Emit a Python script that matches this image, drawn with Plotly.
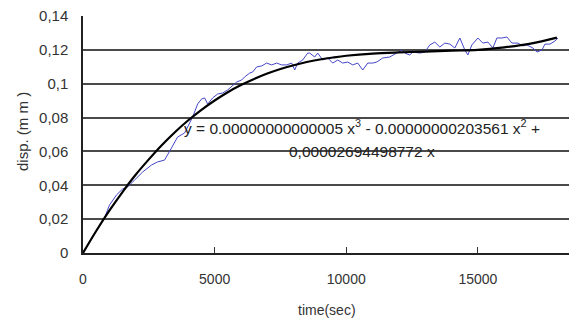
import plotly.graph_objects as go

time_sec = [0, 400, 817, 1008, 1274, 1502, 1692, 1958, 2262, 2604, 2833, 3099, 3289, 3403, 3593,
            3859, 4164, 4354, 4506, 4620, 4734, 4924, 5114, 5304, 5494, 5684, 5836, 6026, 6140,
            6330, 6444, 6596, 6786, 6977, 7167, 7357, 7547, 7737, 7927, 8041, 8155, 8345, 8535,
            8611, 8801, 8915, 9105, 9295, 9485, 9675, 9866, 10056, 10246, 10436, 10626, 10816,
            11006, 11158, 11387, 11653, 11919, 12109, 12223, 12413, 12527, 12793, 12983, 13173,
            13364, 13554, 13744, 13934, 14124, 14314, 14504, 14618, 14770, 14998, 15188, 15379,
            15569, 15721, 15911, 16101, 16291, 16519, 16709, 16862, 17090, 17242, 17432, 17546,
            17736, 17926, 18040]
disp_mm = [0, 0.010, 0.0207, 0.0284, 0.0343, 0.0378, 0.0390, 0.0431, 0.0478, 0.0520, 0.0538,
           0.0549, 0.0597, 0.0632, 0.0685, 0.0709, 0.0803, 0.0880, 0.0910, 0.0916, 0.0880,
           0.0916, 0.0939, 0.0945, 0.0963, 0.0986, 0.1010, 0.1022, 0.1040, 0.1063, 0.1069,
           0.1099, 0.1105, 0.1122, 0.1111, 0.1122, 0.1111, 0.1111, 0.1122, 0.1081, 0.1122,
           0.1140, 0.1181, 0.1181, 0.1158, 0.1181, 0.1140, 0.1152, 0.1122, 0.1140, 0.1122,
           0.1128, 0.1111, 0.1122, 0.1081, 0.1122, 0.1122, 0.1128, 0.1152, 0.1158, 0.1181,
           0.1199, 0.1181, 0.1170, 0.1187, 0.1181, 0.1187, 0.1229, 0.1246, 0.1217, 0.1240,
           0.1234, 0.1211, 0.1270, 0.1199, 0.1170, 0.1229, 0.1270, 0.1240, 0.1246, 0.1211,
           0.1270, 0.1270, 0.1276, 0.1240, 0.1240, 0.1223, 0.1229, 0.1211, 0.1187, 0.1199,
           0.1234, 0.1234, 0.1252, 0.1270]

# Trendline (black)
trend_sec = [0, 500, 1000, 1500, 2000, 2500, 3000, 3500, 4000, 4500, 5000, 5500, 6000, 6500,
             7000, 7500, 8000, 8500, 9000, 9500, 10000, 11000, 12000, 13000, 14000, 15000,
             16000, 17000, 18000]
trend_mm = [0, 0.0130, 0.0250, 0.0360, 0.0462, 0.0553, 0.0638, 0.0715, 0.0784, 0.0846, 0.0901,
            0.0950, 0.0992, 0.1028, 0.1060, 0.1087, 0.1109, 0.1128, 0.1143, 0.1155, 0.1165,
            0.1178, 0.1185, 0.1190, 0.1195, 0.1200, 0.1215, 0.1237, 0.1272]

y_ticks = [0, 0.02, 0.04, 0.06, 0.08, 0.10, 0.12, 0.14]
y_tick_text = ["0", "0,02", "0,04", "0,06", "0,08", "0,1", "0,12", "0,14"]
x_ticks = [0, 5000, 10000, 15000]
x_tick_text = ["0", "5000", "10000", "15000"]

eq_line1 = "y = 0.00000000000005 x<sup>3</sup> - 0.00000000203561 x<sup>2</sup> +"
eq_line2 = "0,00002694498772 x"

FONT = "Liberation Sans, Arial, sans-serif"
TXT = "#333333"

fig = go.Figure()
fig.add_trace(go.Scatter(x=time_sec, y=disp_mm, mode="lines",
                         line=dict(color="#4646c8", width=1), showlegend=False))
fig.add_trace(go.Scatter(x=trend_sec, y=trend_mm, mode="lines", line_shape="spline",
                         line=dict(color="#000000", width=2.2), showlegend=False))

fig.update_layout(
    width=569, height=320,
    margin=dict(l=83, r=0, t=16, b=67),
    paper_bgcolor="white", plot_bgcolor="white",
    font=dict(family=FONT, size=14, color=TXT),
    xaxis=dict(range=[0, 18460], tickvals=x_ticks, ticktext=x_tick_text,
               showgrid=False, zeroline=False, showline=True, linecolor="#222222",
               linewidth=1.5, ticks="inside", ticklen=6, tickcolor="#333333",
               ticklabelstandoff=12, tickfont=dict(size=14, color=TXT, family=FONT)),
    yaxis=dict(range=[0, 0.14], tickvals=y_ticks, ticktext=y_tick_text,
               showgrid=True, gridcolor="#4a4a4a", gridwidth=1.8, zeroline=False,
               showline=True, linecolor="#222222", linewidth=1.5, ticks="",
               ticklabelstandoff=10, tickfont=dict(size=15, color=TXT, family=FONT)),
    annotations=[
        dict(text=eq_line1, x=362, y=127, showarrow=False,
             font=dict(size=15.5, color="#222222", family=FONT)),
        dict(text=eq_line2, x=362, y=151, showarrow=False,
             font=dict(size=15.5, color="#222222", family=FONT)),
        dict(text="time(sec)", x=327, y=310, showarrow=False,
             font=dict(size=14, color=TXT, family=FONT)),
        dict(text="disp. (m m )", x=22, y=131, showarrow=False, textangle=-90,
             font=dict(size=15, color=TXT, family=FONT)),
    ],
)

# convert pixel positions of annotations to paper coordinates
W, H = 569, 320
l, r, t, b = 83, 0, 16, 67
pw, ph = W - l - r, H - t - b
for a in fig.layout.annotations:
    a.xref = "paper"; a.yref = "paper"
    a.x = (a.x - l) / pw
    a.y = 1 - (a.y - t) / ph
    a.xanchor = "center"; a.yanchor = "middle"

fig.write_html("out.html")
